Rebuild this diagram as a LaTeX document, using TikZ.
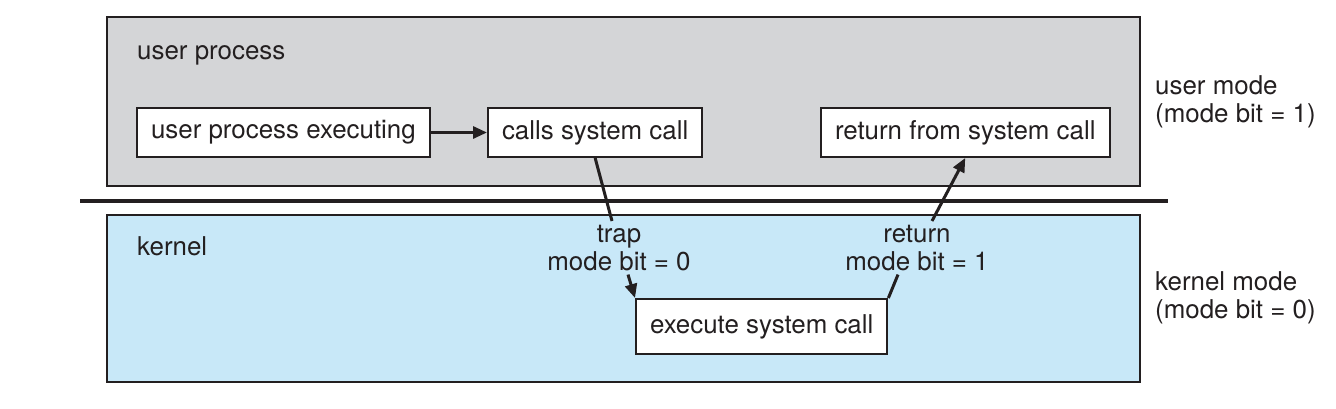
\documentclass[tikz,border=0pt]{standalone}
\usepackage{fontspec}
\setmainfont{TeX Gyre Heros}
\usetikzlibrary{arrows.meta}
\definecolor{usergray}{RGB}{212,213,215}
\definecolor{kernelblue}{RGB}{200,232,248}
\definecolor{ink}{RGB}{35,31,32}
\begin{document}
\begin{tikzpicture}[x=1pt,y=-1pt,
    every node/.style={font=\fontsize{25.9}{27.5}\selectfont, text=ink},
    stepbox/.style={draw=ink, fill=white, line width=2pt, minimum height=49pt, inner xsep=14pt},
    area/.style={draw=ink, line width=2pt},
    modelabel/.style={align=left, anchor=base west, inner sep=0pt},
    switchlabel/.style={align=center, anchor=base, inner sep=4pt},
    arr/.style={draw=ink, line width=3pt, -{Triangle[length=14pt,width=12pt]}},
    link/.style={draw=ink, line width=3pt}]
  \useasboundingbox (0,0) rectangle (1336,408);

  % the two modes
  \draw[area, fill=usergray] (107,17) rectangle (1140,186);
  \draw[area, fill=kernelblue] (107,215) rectangle (1140,382);
  \draw[ink, line width=4pt] (80,201) -- (1168,201);

  \node[anchor=base west, inner sep=0pt] (user) at (137,59) {user process};
  \node[anchor=base west, inner sep=0pt] (kernel) at (137,255) {kernel};

  \node[modelabel] (usermode) at (1155,122) {user mode\\(mode bit = 1)};
  \node[modelabel] (kernelmode) at (1155,318) {kernel mode\\(mode bit = 0)};

  % steps
  \node[stepbox, anchor=west] (exec) at (136,132.5) {user process executing};
  \node[stepbox, anchor=west] (calls) at (487,132.5) {calls system call};
  \node[stepbox, anchor=west] (ret) at (820,132.5) {return from system call};
  \node[stepbox, anchor=north west, minimum height=55pt] (sys) at (635,298) {execute system call};

  \node[switchlabel] (trap) at (619,270) {trap\\mode bit = 0};
  \node[switchlabel] (back) at (917,270) {return\\mode bit = 1};

  \draw[arr] (exec) -- (calls);
  \draw[link] (calls.south) -- ([xshift=-7pt]trap.north);
  \draw[arr] ([xshift=9pt]trap.south) -- (sys.north west);
  \draw[link] (sys.north east) -- ([xshift=-19pt]back.south);
  \draw[arr] ([xshift=15pt]back.north) -- (ret.south);
\end{tikzpicture}
\end{document}
